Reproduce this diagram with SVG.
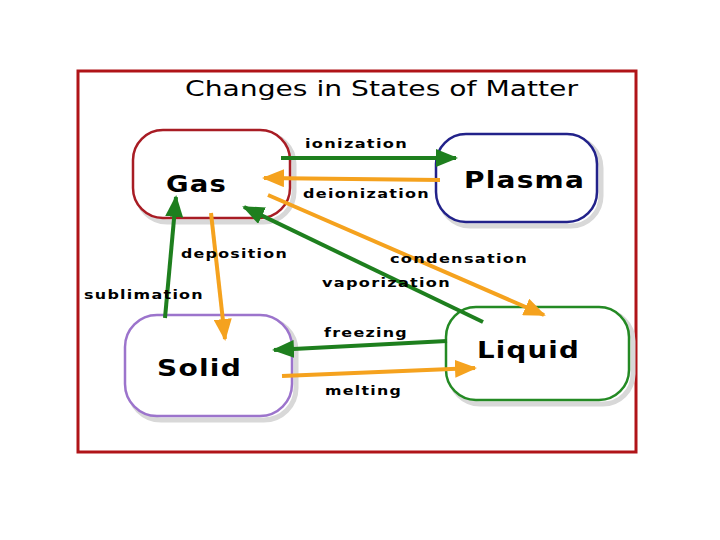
<svg xmlns="http://www.w3.org/2000/svg" width="720" height="540" viewBox="0 0 720 540">
<style>
.box{fill:#fff;stroke-width:2.5}
.shadow{fill:none;stroke:#d8d8d8;stroke-width:5}
.name{font-family:"DejaVu Sans",Verdana,sans-serif;font-weight:bold;font-size:23px;fill:#000;letter-spacing:1px}
.lbl{font-family:"DejaVu Sans",Verdana,sans-serif;font-weight:bold;font-size:12.5px;fill:#000;letter-spacing:1px}
.g{stroke:#1e7f1e;stroke-width:4;fill:none}
.o{stroke:#f5a21e;stroke-width:4;fill:none}
</style>
<defs>
<marker id="ag" viewBox="0 0 22 18" refX="20" refY="9" markerWidth="22" markerHeight="18" markerUnits="userSpaceOnUse" orient="auto"><path d="M0,0 L22,9 L0,18 Z" fill="#1e7f1e"/></marker>
<marker id="ao" viewBox="0 0 22 18" refX="20" refY="9" markerWidth="22" markerHeight="18" markerUnits="userSpaceOnUse" orient="auto"><path d="M0,0 L22,9 L0,18 Z" fill="#f5a21e"/></marker>
</defs>
<rect x="0" y="0" width="720" height="540" fill="#fff"/>
<rect x="78" y="71" width="558" height="381" fill="#fff" stroke="#b01418" stroke-width="3"/>
<text x="185" y="96" textLength="393" lengthAdjust="spacingAndGlyphs" font-family="DejaVu Sans,Verdana,sans-serif" font-size="22" fill="#000">Changes in States of Matter</text>
<g id="gas">
<rect class="shadow" x="137" y="134" width="157" height="88" rx="30"/>
<rect class="box" x="133" y="130" width="157" height="88" rx="30" stroke="#a81c24"/>
<text class="name" x="166" y="192" textLength="61" lengthAdjust="spacingAndGlyphs">Gas</text>
</g>
<g id="plasma">
<rect class="shadow" x="440" y="138" width="161" height="88" rx="30"/>
<rect class="box" x="436" y="134" width="161" height="88" rx="30" stroke="#22228a"/>
<text class="name" x="464" y="188" textLength="121" lengthAdjust="spacingAndGlyphs">Plasma</text>
</g>
<g id="solid">
<rect class="shadow" x="129" y="319" width="167" height="101" rx="32"/>
<rect class="box" x="125" y="315" width="167" height="101" rx="32" stroke="#9c74cc"/>
<text class="name" x="157" y="376" textLength="85" lengthAdjust="spacingAndGlyphs">Solid</text>
</g>
<g id="liquid">
<rect class="shadow" x="450" y="311" width="183" height="93" rx="30"/>
<rect class="box" x="446" y="307" width="183" height="93" rx="30" stroke="#248a24"/>
<text class="name" x="477" y="358" textLength="103" lengthAdjust="spacingAndGlyphs">Liquid</text>
</g>
<g id="connectors">
<line class="g" x1="281" y1="158" x2="456" y2="158" marker-end="url(#ag)"/>
<line class="o" x1="440" y1="180" x2="264" y2="178" marker-end="url(#ao)"/>
<line class="o" x1="211" y1="213" x2="225" y2="339" marker-end="url(#ao)"/>
<line class="g" x1="165" y1="318" x2="176" y2="197" marker-end="url(#ag)"/>
<line class="o" x1="268" y1="195" x2="544" y2="315" marker-end="url(#ao)"/>
<line class="g" x1="483" y1="322" x2="244" y2="207" marker-end="url(#ag)"/>
<line class="g" x1="447" y1="341" x2="274" y2="350" marker-end="url(#ag)"/>
<line class="o" x1="282" y1="376" x2="475" y2="368" marker-end="url(#ao)"/>
<text class="lbl" x="305" y="148" textLength="103" lengthAdjust="spacingAndGlyphs">ionization</text>
<text class="lbl" x="303" y="198" textLength="127" lengthAdjust="spacingAndGlyphs">deionization</text>
<text class="lbl" x="181" y="258" textLength="107" lengthAdjust="spacingAndGlyphs">deposition</text>
<text class="lbl" x="84" y="299" textLength="120" lengthAdjust="spacingAndGlyphs">sublimation</text>
<text class="lbl" x="390" y="263" textLength="138" lengthAdjust="spacingAndGlyphs">condensation</text>
<text class="lbl" x="322" y="287" textLength="129" lengthAdjust="spacingAndGlyphs">vaporization</text>
<text class="lbl" x="324" y="337" textLength="84" lengthAdjust="spacingAndGlyphs">freezing</text>
<text class="lbl" x="325" y="395" textLength="77" lengthAdjust="spacingAndGlyphs">melting</text>
</g>
</svg>
